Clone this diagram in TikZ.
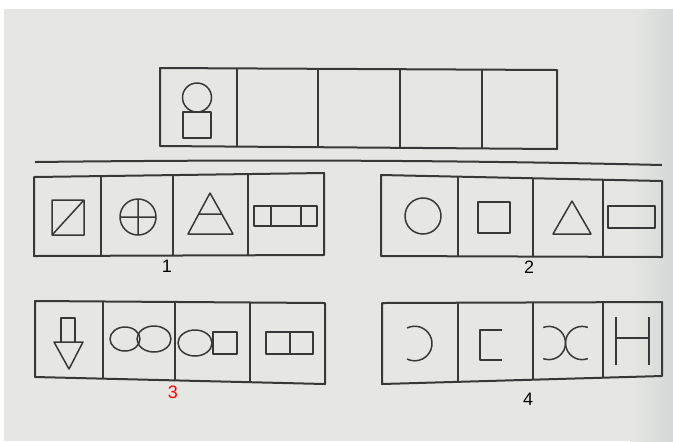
\documentclass[tikz,border=0pt]{standalone}
\usepackage{fontspec}
\setmainfont{Liberation Sans}
\usetikzlibrary{calc}
\definecolor{paper}{HTML}{E6E7E2}
\definecolor{paperedge}{HTML}{D3D8D8}
\definecolor{ink}{HTML}{383838}

\begin{document}
\begin{tikzpicture}[
  x=0.5pt,y=-0.5pt,
  box/.style={draw=ink,line width=1pt,line join=round},
  fig/.style={draw=ink,line width=0.75pt,line join=round},
  num/.style={font=\fontsize{9}{10}\selectfont,inner sep=0pt}
]
\fill[white] (0,0) rectangle (673,441);
\fill[paper] (4,9) rectangle (673,441);
\shade[left color=paper,right color=paperedge] (630,9) rectangle (673,441);
\useasboundingbox (0,0) rectangle (673,441);

% question strip
\coordinate (q1) at (160,68); \coordinate (q2) at (557,70);
\coordinate (q3) at (557,149); \coordinate (q4) at (160,146);
\draw[box] (q1)--(q2)--(q3)--(q4)--cycle;
\foreach \f in {0.194,0.398,0.605,0.811}
  \draw[box] ($(q1)!\f!(q2)$) -- ($(q4)!\f!(q3)$);
\draw[fig] (197,97.5) circle (14.5);
\draw[fig] (183,112) rectangle (211,138);

% separator
\coordinate (sl) at (35,162); \coordinate (sr) at (662,165);
\draw[box] (sl) .. controls (250,159.5) and (450,160) .. (sr);

% option 1
\coordinate (a1) at (34,177); \coordinate (a2) at (324,173);
\coordinate (a3) at (324,255); \coordinate (a4) at (34,256);
\draw[box] (a1)--(a2)--(a3)--(a4)--cycle;
\foreach \f in {0.231,0.479,0.738}
  \draw[box] ($(a1)!\f!(a2)$) -- ($(a4)!\f!(a3)$);
\draw[fig] (52,200) rectangle (84,235) (52,235) -- (84,200);
\draw[fig] (138,217) circle (18) (120,217) -- (156,217) (138,199) -- (138,235);
\draw[fig] (210,193) -- (233,234) -- (188,234) -- cycle (199,214) -- (222,214);
\draw[fig] (254,206) rectangle (317,226) (271,206) -- (271,226) (301,206) -- (301,226);
\node[num] (n1) at (167,266) {1};

% option 2
\coordinate (b1) at (381,175); \coordinate (b2) at (662,181);
\coordinate (b3) at (662,257); \coordinate (b4) at (381,256);
\draw[box] (b1)--(b2)--(b3)--(b4)--cycle;
\foreach \f in {0.274,0.541,0.790}
  \draw[box] ($(b1)!\f!(b2)$) -- ($(b4)!\f!(b3)$);
\draw[fig] (423,216) circle (18);
\draw[fig] (478,202) rectangle (510,233);
\draw[fig] (572,201) -- (591,234) -- (553,234) -- cycle;
\draw[fig] (608,206) rectangle (655,228);
\node[num] (n2) at (529,267) {2};

% option 3
\coordinate (c1) at (35,301); \coordinate (c2) at (325,303);
\coordinate (c3) at (325,384); \coordinate (c4) at (35,377);
\draw[box] (c1)--(c2)--(c3)--(c4)--cycle;
\foreach \f in {0.234,0.483,0.741}
  \draw[box] ($(c1)!\f!(c2)$) -- ($(c4)!\f!(c3)$);
\draw[fig] (61,342) -- (61,318) -- (75,318) -- (75,342);
\draw[fig] (54,342) -- (83,342) -- (69,369) -- cycle;
\draw[fig] (125,339) ellipse [x radius=15,y radius=12];
\draw[fig] (154,339) ellipse [x radius=17,y radius=13];
\draw[fig] (195,343) ellipse [x radius=17,y radius=13];
\draw[fig] (213,332) rectangle (237,354);
\draw[fig] (266,332) rectangle (313,354) (290,332) -- (290,354);
\node[num,text=red] (n3) at (173,392) {3};

% option 4
\coordinate (d1) at (382,303); \coordinate (d2) at (662,302);
\coordinate (d3) at (662,376); \coordinate (d4) at (382,384);
\draw[box] (d1)--(d2)--(d3)--(d4)--cycle;
\foreach \f in {0.271,0.539,0.789}
  \draw[box] ($(d1)!\f!(d2)$) -- ($(d4)!\f!(d3)$);
\draw[fig] (414.7,343.5) ++(-116:17.3) arc[start angle=-116,end angle=116,radius=17.3];
\draw[fig] (502,330) -- (480,330) -- (480,360) -- (502,360);
\draw[fig] (548.9,343) ++(-110:16.6) arc[start angle=-110,end angle=110,radius=16.6];
\draw[fig] (582.1,343) ++(70:16.6) arc[start angle=70,end angle=290,radius=16.6];
\draw[fig] (616,317) -- (616,365) (649,317) -- (649,365) (616,338) -- (649,338);
\node[num] (n4) at (528,399) {4};
\end{tikzpicture}
\end{document}
